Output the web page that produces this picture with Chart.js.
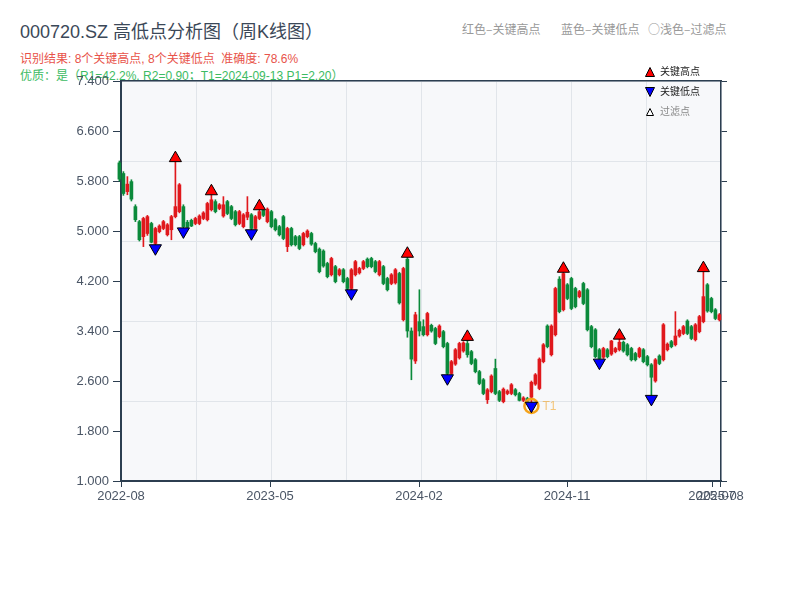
<!DOCTYPE html>
<html>
<head>
<meta charset="utf-8">
<script src="https://cdn.jsdelivr.net/npm/chart.js@4.4.1/dist/chart.umd.min.js"></script>
<style>
  body { margin: 0; background: #fff; }
  #wrap { position: relative; width: 800px; height: 600px; font-family: 'Liberation Sans', 'Noto Sans CJK SC', sans-serif; }
  #wrap canvas { position: absolute; left: 0; top: 0; }
  .txt { position: absolute; white-space: nowrap; }
  #title { left: 20px; top: 21px; font-size: 18px; line-height: 22px; color: #3b4858; }
  #result { left: 20px; top: 51px; font-size: 12px; line-height: 16px; color: #e8534a; }
  #quality { left: 20px; top: 68px; font-size: 12px; line-height: 16px; color: #3dbb63; }
  .note { top: 21px; font-size: 12px; line-height: 16px; color: #999; font-family: 'Noto Sans CJK SC', sans-serif; }
  .legend { position: absolute; left: 645px; font-size: 10px; line-height: 12px; color: #222; display: flex; align-items: center; }
  .legend svg { margin-right: 5px; }
  #t1Label { font-size: 12px; line-height: 14px; color: rgba(243, 156, 18, 0.55); }
</style>
</head>
<body>
<div id="wrap">
  <div class="txt" id="title">000720.SZ 高低点分析图（周K线图）</div>
  <div class="txt" id="result">识别结果: 8个关键高点, 8个关键低点&nbsp;&nbsp;准确度: 78.6%</div>
  <div class="txt" id="quality">优质：是（R1=42.2%, R2=0.90；T1=2024-09-13 P1=2.20）</div>
  <div class="txt note" style="left:462px">红色–关键高点</div>
  <div class="txt note" style="left:561px">蓝色–关键低点</div>
  <div class="txt note" style="left:648px">○浅色–过滤点</div>
  <canvas id="chart" width="800" height="600"></canvas>
  <div class="legend" style="top:66px"><svg width="10" height="10"><polygon points="5,0.5 9.5,9.5 0.5,9.5" fill="#ff0000" stroke="#000" stroke-width="1"/></svg>关键高点</div>
  <div class="legend" style="top:86px"><svg width="10" height="10"><polygon points="0.5,0.5 9.5,0.5 5,9.5" fill="#0000ff" stroke="#000" stroke-width="1"/></svg>关键低点</div>
  <div class="legend" style="top:106px;color:#888"><svg width="10" height="10"><polygon points="5,1.5 8.5,8.5 1.5,8.5" fill="#fff" stroke="#000" stroke-width="1"/></svg>过滤点</div>
  <div class="txt" id="t1Label">T1</div>
</div>
<script>
// weekly candles, one per trading week (index = week number on the axis)
const candleOpen = [
  6.09, 5.92, 5.63, 5.79, 5.39, 5.15, 4.91, 4.96, 5.12, 4.80,
  4.99, 5.04, 4.94, 5.02, 5.23, 5.31, 5.39, 5.14, 5.17, 5.12,
  5.12, 5.20, 5.18, 5.34, 5.47, 5.36, 5.24, 5.47, 5.39, 5.31,
  5.12, 5.07, 5.22, 5.26, 5.04, 5.20, 5.33, 5.15, 5.31, 5.18,
  5.07, 5.23, 4.75, 5.04, 4.91, 4.91, 4.78, 4.91, 4.96, 4.80,
  4.71, 4.68, 4.48, 4.30, 4.43, 4.30, 4.38, 4.24, 4.08, 4.30,
  4.33, 4.40, 4.55, 4.56, 4.51, 4.30, 4.43, 4.24, 4.16, 4.17,
  4.32, 3.58, 4.55, 3.40, 2.92, 3.55, 3.47, 3.34, 3.49, 3.44,
  3.31, 3.39, 3.20, 2.72, 2.87, 2.97, 3.08, 3.20, 3.07, 2.94,
  2.75, 2.62, 2.30, 2.43, 2.80, 2.43, 2.27, 2.40, 2.40, 2.46,
  2.40, 2.29, 2.32, 2.34, 2.55, 2.48, 2.91, 3.48, 3.02, 3.34,
  4.23, 3.74, 4.14, 4.24, 4.08, 3.95, 4.16, 4.06, 3.47, 3.42,
  3.10, 2.98, 3.10, 3.03, 3.07, 3.10, 3.22, 3.18, 3.12, 3.04,
  2.99, 3.10, 2.99, 2.86, 2.60, 3.00, 2.94, 3.10, 3.23, 3.18,
  3.32, 3.36, 3.56, 3.47, 3.26, 3.39, 3.55, 4.14, 3.92, 3.74,
  3.58
];
const candleHigh = [
  6.12, 5.95, 5.87, 5.82, 5.42, 5.17, 5.22, 5.25, 5.14, 5.06,
  5.10, 5.17, 5.12, 5.25, 6.11, 5.76, 5.42, 5.17, 5.19, 5.22,
  5.26, 5.31, 5.46, 5.58, 5.50, 5.44, 5.55, 5.49, 5.41, 5.33,
  5.33, 5.28, 5.55, 5.28, 5.25, 5.34, 5.34, 5.37, 5.33, 5.20,
  5.09, 5.25, 5.06, 5.06, 4.93, 4.93, 4.98, 5.02, 4.98, 4.82,
  4.73, 4.70, 4.50, 4.58, 4.45, 4.40, 4.40, 4.26, 4.40, 4.53,
  4.42, 4.53, 4.57, 4.58, 4.53, 4.53, 4.45, 4.26, 4.32, 4.40,
  4.34, 4.42, 4.58, 3.45, 3.70, 4.06, 3.58, 3.70, 3.51, 3.46,
  3.50, 3.41, 3.22, 2.93, 3.12, 3.22, 3.23, 3.25, 3.09, 2.96,
  2.77, 2.64, 2.48, 2.70, 2.95, 2.45, 2.49, 2.46, 2.56, 2.48,
  2.42, 2.35, 2.34, 2.60, 2.72, 2.97, 3.20, 3.50, 3.50, 4.10,
  4.27, 4.34, 4.16, 4.26, 4.10, 4.05, 4.18, 4.08, 3.49, 3.44,
  3.12, 3.14, 3.12, 3.25, 3.14, 3.27, 3.24, 3.20, 3.14, 3.06,
  3.14, 3.12, 3.01, 2.88, 2.96, 3.02, 3.52, 3.21, 3.25, 3.71,
  3.43, 3.49, 3.58, 3.49, 3.52, 3.65, 4.35, 4.16, 3.94, 3.76,
  3.68
];
const candleLow = [
  5.80, 5.57, 5.58, 5.48, 5.15, 4.84, 4.75, 4.93, 4.81, 4.78,
  4.97, 5.02, 4.92, 4.86, 5.21, 5.29, 5.05, 5.06, 5.07, 5.10,
  5.10, 5.18, 5.16, 5.32, 5.29, 5.34, 5.22, 5.26, 5.18, 5.08,
  5.10, 5.05, 5.18, 5.02, 5.03, 5.18, 5.23, 5.13, 5.05, 5.00,
  4.92, 4.86, 4.67, 4.76, 4.76, 4.70, 4.76, 4.89, 4.77, 4.65,
  4.33, 4.42, 4.25, 4.28, 4.17, 4.28, 4.17, 4.06, 4.06, 4.28,
  4.31, 4.38, 4.41, 4.41, 4.33, 4.28, 4.14, 4.04, 4.14, 4.15,
  3.83, 3.56, 3.30, 2.62, 2.88, 3.32, 3.32, 3.32, 3.38, 3.18,
  3.29, 3.13, 2.70, 2.71, 2.85, 2.95, 3.06, 2.98, 2.86, 2.73,
  2.54, 2.38, 2.24, 2.41, 2.38, 2.27, 2.25, 2.38, 2.38, 2.36,
  2.28, 2.27, 2.27, 2.26, 2.53, 2.46, 2.89, 3.13, 3.00, 3.32,
  3.69, 3.72, 3.90, 3.74, 3.77, 3.93, 3.82, 3.40, 3.13, 2.97,
  2.95, 2.96, 2.97, 3.01, 3.05, 3.08, 3.06, 3.00, 2.92, 2.92,
  2.97, 2.89, 2.84, 2.37, 2.58, 2.86, 2.92, 3.08, 3.13, 3.16,
  3.30, 3.34, 3.34, 3.26, 3.24, 3.37, 3.53, 3.70, 3.69, 3.58,
  3.56
];
const candleClose = [
  5.83, 5.60, 5.75, 5.51, 5.18, 4.86, 5.20, 5.23, 4.82, 5.04,
  5.08, 5.15, 5.10, 5.23, 5.39, 5.74, 5.07, 5.06, 5.08, 5.20,
  5.24, 5.29, 5.44, 5.50, 5.31, 5.42, 5.42, 5.28, 5.20, 5.10,
  5.31, 5.26, 5.30, 5.04, 5.23, 5.31, 5.25, 5.35, 5.07, 5.02,
  4.94, 4.88, 5.04, 4.78, 4.78, 4.72, 4.96, 5.00, 4.79, 4.67,
  4.35, 4.44, 4.27, 4.56, 4.19, 4.38, 4.19, 4.08, 4.38, 4.51,
  4.40, 4.51, 4.43, 4.43, 4.35, 4.51, 4.16, 4.06, 4.30, 4.38,
  3.85, 4.40, 3.40, 2.95, 3.66, 3.40, 3.34, 3.68, 3.40, 3.20,
  3.48, 3.15, 2.72, 2.91, 3.10, 3.20, 3.21, 3.02, 2.88, 2.75,
  2.56, 2.40, 2.46, 2.68, 2.40, 2.29, 2.47, 2.44, 2.54, 2.38,
  2.29, 2.33, 2.28, 2.58, 2.70, 2.95, 3.18, 3.15, 3.48, 4.08,
  3.71, 4.32, 3.92, 3.76, 3.79, 4.03, 3.84, 3.42, 3.15, 2.99,
  2.96, 3.12, 2.99, 3.24, 3.12, 3.22, 3.08, 3.02, 2.94, 2.94,
  3.12, 2.91, 2.86, 2.66, 2.94, 2.88, 3.50, 3.19, 3.15, 3.32,
  3.41, 3.47, 3.36, 3.28, 3.50, 3.63, 3.95, 3.72, 3.71, 3.60,
  3.66
];

// key turning points (candle indices)
const keyHighIdx = [14, 23, 35, 72, 87, 111, 125, 146];
const keyLowIdx = [9, 16, 33, 58, 82, 103, 120, 133];
const t1Index = 103;
const t1Price = 2.20;

// axis ticks (x in weeks from the first candle)
const xTickWeeks = [0.4, 37.65, 74.9, 111.9, 148.15, 150.15];
const xTickLabels = ['2022-08', '2023-05', '2024-02', '2024-11', '2025-07', '2025-08'];
const yTickValues = [1.0, 1.8, 2.6, 3.4, 4.2, 5.0, 5.8, 6.6, 7.4];

const RED = '#e0181c';
const GREEN = '#0b8a3b';
const AXIS = '#2c3e50';
const GRID = '#e1e5ea';
const LABEL = '#4a5565';
const FONT = "'Liberation Sans', 'Noto Sans CJK SC', sans-serif";
const MARKER_OFFSET = 0.056; // half a marker height, in price units

const candleColor = (i) => candleClose[i] >= candleOpen[i] ? RED : GREEN;

const wickData = candleOpen.map((_, i) => ({ x: i, y: [candleLow[i], candleHigh[i]] }));
const bodyData = candleOpen.map((o, i) => ({ x: i, y: [o, candleClose[i]] }));
const highMarks = keyHighIdx.map(i => ({ x: i, y: candleHigh[i] + MARKER_OFFSET }));
const lowMarks = keyLowIdx.map(i => ({ x: i, y: candleLow[i] - MARKER_OFFSET }));

// plot area background + T1 label placement
const plotBackground = {
  id: 'plotBackground',
  beforeDraw(chart) {
    const { ctx, chartArea: a } = chart;
    ctx.save();
    ctx.fillStyle = '#f7f8fa';
    ctx.fillRect(a.left, a.top, a.right - a.left, a.bottom - a.top);
    ctx.restore();
  },
  afterDraw(chart) {
    const label = document.getElementById('t1Label');
    const px = chart.scales.x.getPixelForValue(t1Index);
    const py = chart.scales.y.getPixelForValue(t1Price);
    label.style.left = (px + 11) + 'px';
    label.style.top = (py - 7) + 'px';
  }
};

new Chart(document.getElementById('chart'), {
  type: 'bar',
  data: {
    datasets: [
      {
        label: 'wick',
        data: wickData,
        backgroundColor: ctx => candleColor(ctx.dataIndex),
        barThickness: 1,
        grouped: false,
        clip: false,
        order: 5
      },
      {
        label: 'body',
        data: bodyData,
        backgroundColor: ctx => candleColor(ctx.dataIndex),
        barThickness: 3,
        minBarLength: 1,
        grouped: false,
        clip: false,
        order: 4
      },
      {
        type: 'scatter',
        label: 'T1',
        data: [{ x: t1Index, y: t1Price }],
        pointStyle: 'circle',
        pointRadius: 7,
        backgroundColor: 'rgba(0,0,0,0)',
        borderColor: '#f5a31a',
        borderWidth: 2.5,
        clip: false,
        order: 3
      },
      {
        type: 'scatter',
        label: '关键低点',
        data: lowMarks,
        pointStyle: 'triangle',
        rotation: 180,
        pointRadius: 7,
        backgroundColor: '#0000ff',
        borderColor: '#000',
        borderWidth: 1,
        clip: false,
        order: 2
      },
      {
        type: 'scatter',
        label: '关键高点',
        data: highMarks,
        pointStyle: 'triangle',
        pointRadius: 7,
        backgroundColor: '#ff0000',
        borderColor: '#000',
        borderWidth: 1,
        clip: false,
        order: 1
      }
    ]
  },
  options: {
    responsive: false,
    devicePixelRatio: 1,
    animation: false,
    events: [],
    layout: { padding: { left: 0, top: 81, right: 69, bottom: 79 } },
    plugins: {
      legend: { display: false },
      tooltip: { enabled: false }
    },
    scales: {
      x: {
        type: 'linear',
        position: 'bottom',
        offset: false,
        min: 0.4,
        max: 150.4,
        afterBuildTicks: s => { s.ticks = xTickWeeks.map(v => ({ value: v })); },
        afterFit: s => { s.height = 40; },
        ticks: {
          autoSkip: false,
          maxRotation: 0,
          padding: 2,
          color: LABEL,
          font: { size: 13, family: FONT },
          callback: (v, i) => xTickLabels[i]
        },
        grid: { offset: false, drawOnChartArea: false, tickLength: 6, tickColor: AXIS },
        border: { color: AXIS, width: 2 }
      },
      xGrid: {
        type: 'linear',
        position: 'top',
        offset: false,
        min: 0,
        max: 8,
        afterFit: s => { s.height = 0; },
        ticks: { display: false, stepSize: 1 },
        grid: { offset: false, color: GRID, drawTicks: false },
        border: { color: AXIS, width: 1.5 }
      },
      y: {
        type: 'linear',
        position: 'left',
        min: 1,
        max: 7.4,
        afterBuildTicks: s => { s.ticks = yTickValues.map(v => ({ value: v })); },
        afterFit: s => { s.width = 121; },
        ticks: {
          padding: 4,
          color: LABEL,
          font: { size: 13, family: FONT },
          callback: v => v.toFixed(3)
        },
        grid: { drawOnChartArea: false, tickLength: 8, tickColor: AXIS },
        border: { color: AXIS, width: 2 }
      },
      yRight: {
        type: 'linear',
        position: 'right',
        min: 1,
        max: 7.4,
        afterBuildTicks: s => { s.ticks = yTickValues.map(v => ({ value: v })); },
        afterFit: s => { s.width = 10; },
        ticks: { display: false },
        grid: { drawOnChartArea: false, tickLength: 6, tickColor: AXIS },
        border: { color: AXIS, width: 1.5 }
      },
      yGrid: {
        type: 'linear',
        position: 'right',
        min: 0,
        max: 5,
        afterFit: s => { s.width = 0; },
        ticks: { display: false, stepSize: 1 },
        grid: { color: GRID, drawTicks: false },
        border: { display: false }
      }
    }
  },
  plugins: [plotBackground]
});
</script>
</body>
</html>
